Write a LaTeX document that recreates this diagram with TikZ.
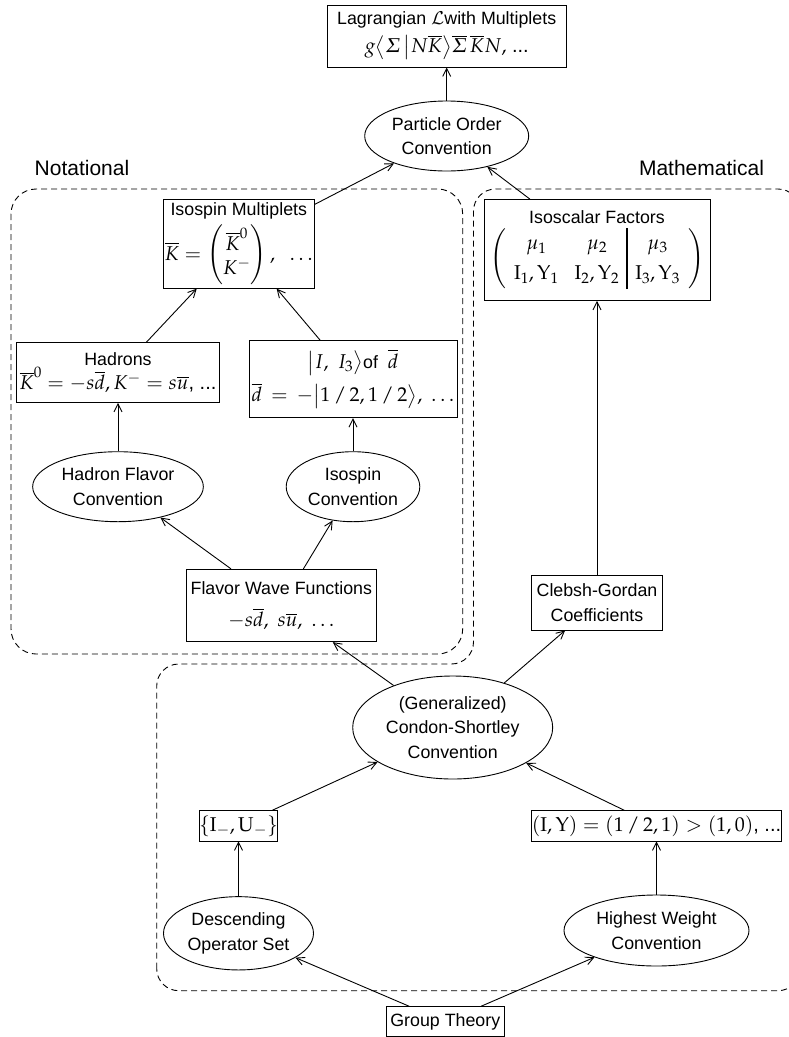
\documentclass[tikz,border=0pt]{standalone}
\usepackage{amsmath}
\usepackage{mathpazo}
\usepackage[no-math]{fontspec}
\setmainfont{Liberation Sans}
\usetikzlibrary{shapes.geometric,arrows.meta}
\newcommand\bigmath{\fontsize{20}{24.5}\selectfont}
\begin{document}
\begin{tikzpicture}[x=1pt,y=-1pt,
  every node/.style={font=\fontsize{17.8}{24.5}\selectfont, inner sep=0pt, align=center},
  box/.style={draw, rectangle, line width=0.9pt},
  ell/.style={draw, ellipse, line width=0.9pt},
  arr/.style={-{Straight Barb[length=8pt,width=8pt]}, line width=0.9pt},
  grp/.style={line width=0.9pt, dash pattern=on 6pt off 4pt},
  lbl/.style={font=\fontsize{21}{25}\selectfont}]
\useasboundingbox (0,0) rectangle (789,1037);
\fill[white] (0,0) rectangle (789,1037);

% dashed groups
\draw[grp, rounded corners=25pt] (11,189) rectangle (462.7,654);
\draw[grp, rounded corners=22pt] (156.7,990.7) -- (156.7,664) -- (473.5,664) -- (473.5,189) -- (800,189) -- (800,990.7) -- cycle;

\node[lbl] (notl) at (82,168) {Notational};
\node[lbl] (mathl) at (701.5,167.5) {Mathematical};

% nodes
\node[box, minimum width=239pt, minimum height=62pt] (lag) at (446.7,36)
  {Lagrangian $\mathcal{L}$with Multiplets\\[4pt]
   {\bigmath $g\bigl\langle \varSigma\,\big|N\overline{K}\bigr\rangle\overline{\varSigma}\,\overline{K}N,$ ...}};
\node[ell, minimum width=164pt, minimum height=70pt] (po) at (446.7,136) {Particle Order\\Convention};

\node[box, minimum width=151pt, minimum height=89pt] (im) at (238.8,243.7)
  {Isospin Multiplets\\[5pt]
   {\bigmath $\overline{K} = \begin{pmatrix}\overline{K}^0\\ K^-\end{pmatrix},\ \ \ldots$}};

\node[box, minimum width=226pt, minimum height=101pt] (isf) at (597,250)
  {Isoscalar Factors\\[3pt]
   {\setlength{\arrayrulewidth}{2pt}\setlength{\arraycolsep}{8pt}\renewcommand{\arraystretch}{1.25}\bigmath
    $\left(\begin{array}{cc|c}
      \mu_1 & \mu_2 & \mu_3\\
      \mathrm{I}_1,\mathrm{Y}_1 & \mathrm{I}_2,\mathrm{Y}_2 & \mathrm{I}_3,\mathrm{Y}_3
    \end{array}\right)$}};

\node[box, minimum width=203pt, minimum height=60pt] (had) at (118,372.5)
  {Hadrons\\
   {\bigmath $\overline{K}^0 = -s\overline{d}, K^- = s\overline{u}$, ...}};

\node[box, minimum width=208pt, minimum height=77pt] (ist) at (353,379.2)
  {{\bigmath $\bigl|I,\ I_3\bigr\rangle$}of\ \ {\bigmath $\overline{d}$}\\[6pt]
   {\bigmath $\overline{d}\,=\,-\bigl|1\,/\,2,1\,/\,2\bigr\rangle,\ \ldots$}};

\node[ell, minimum width=170.7pt, minimum height=70pt] (hfc) at (118,486.7) {Hadron Flavor\\Convention};
\node[ell, minimum width=133.6pt, minimum height=70pt] (isc) at (353,486.7) {Isospin\\Convention};

\node[box, minimum width=190.7pt, minimum height=72.4pt] (fwf) at (281.3,605.5)
  {Flavor Wave Functions\\[8pt]
   {\bigmath $-s\overline{d},\ s\overline{u},\ \ldots$}};

\node[box, minimum width=131.6pt, minimum height=54.3pt] (cg) at (597,602.8) {Clebsh-Gordan\\Coefficients};

\node[ell, minimum width=200pt, minimum height=103pt] (cs) at (452.7,727.5) {(Generalized)\\Condon-Shortley\\Convention};

\node[box, minimum width=77.7pt, minimum height=30.3pt] (iu) at (238.5,825.8)
  {\bigmath $\{\mathrm{I}_-,\mathrm{U}_-\}$};
\node[box, minimum width=238.3pt, minimum height=30.3pt] (iy) at (656.5,825.8)
  {\bigmath $(\mathrm{I},\mathrm{Y}) = (1\,/\,2,1) > (1,0)$, ...};

\node[ell, minimum width=150pt, minimum height=73.3pt] (dos) at (238.5,933.3) {Descending\\Operator Set};
\node[ell, minimum width=185pt, minimum height=71pt] (hw) at (656.5,930.5) {Highest Weight\\Convention};

\node[box, minimum width=117.3pt, minimum height=30pt] (gt) at (445.3,1021.7) {Group Theory};

% connectors
\draw[arr] (po) -- (lag);
\draw[arr] (im) -- (po);
\draw[arr] (isf) -- (po);
\draw[arr] (had) -- (im);
\draw[arr] (ist) -- (im);
\draw[arr] (hfc) -- (had);
\draw[arr] (isc) -- (ist);
\draw[arr] (fwf) -- (hfc);
\draw[arr] (fwf) -- (isc);
\draw[arr] (cs) -- (fwf);
\draw[arr] (cs) -- (cg);
\draw[arr] (cg) -- (isf);
\draw[arr] (iu) -- (cs);
\draw[arr] (iy) -- (cs);
\draw[arr] (dos) -- (iu);
\draw[arr] (hw) -- (iy);
\draw[arr] (gt) -- (dos);
\draw[arr] (gt) -- (hw);
\end{tikzpicture}
\end{document}
